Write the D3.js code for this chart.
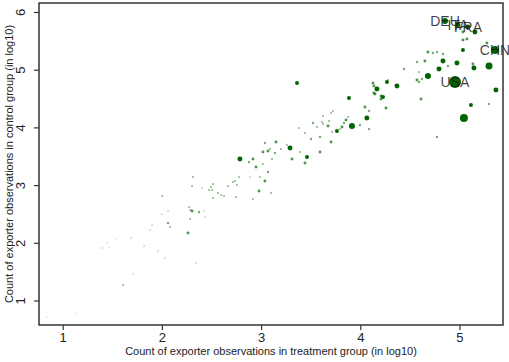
<!DOCTYPE html>
<html>
<head>
<meta charset="utf-8">
<script src="https://cdnjs.cloudflare.com/ajax/libs/d3/7.8.5/d3.min.js"></script>
<style>
  body { margin: 0; background: #fff; }
  svg { display: block; font-family: "Liberation Sans", Arial, sans-serif; }
</style>
</head>
<body>
<div id="chart"></div>
<script>
// log10 counts: treatment (x), control (y), and marker weight (w)
var treat = [4.854, 4.985, 5.086, 5.156, 5.035, 5.035, 5.075, 5.035, 5.277, 5.358,
  4.682, 4.733, 4.773, 4.834, 4.572, 4.652, 4.834, 4.975, 4.884, 5.136,
  5.146, 5.298, 4.441, 4.592, 4.794, 4.682, 4.572, 4.592, 4.622, 4.955,
  4.269, 4.279, 4.370, 4.209, 4.229, 5.368, 4.612, 4.259, 5.116, 5.298,
  5.045, 4.773, 3.362, 4.128, 4.138, 4.168, 4.138, 4.148, 4.209, 3.886,
  4.047, 4.088, 4.067, 3.876, 3.856, 3.836, 3.725, 3.705, 3.624, 3.614,
  3.624, 3.523, 3.685, 3.675, 3.564, 3.816, 3.795, 3.916, 3.997, 4.088,
  3.382, 3.765, 3.715, 3.442, 3.594, 3.503, 3.705, 3.594, 3.463, 3.443,
  3.039, 3.150, 3.019, 3.069, 3.090, 3.201, 3.140, 3.261, 3.292, 3.312,
  3.392, 3.110, 2.787, 2.878, 2.918, 2.949, 3.019, 3.069, 2.777, 2.888,
  2.989, 3.039, 2.716, 2.737, 2.515, 2.666, 2.757, 2.404, 2.495, 2.475,
  2.505, 2.566, 2.596, 2.626, 2.979, 3.100, 2.515, 2.747, 2.918, 2.314,
  2.304, 2.001, 2.275, 2.304, 2.285, 2.375, 2.426, 2.436, 2.062, 2.001,
  2.285, 2.062, 2.083, 1.901, 1.880, 2.264, 1.689, 1.820, 1.961, 2.031,
  2.344, 0.842, 1.144, 1.316, 1.396, 1.447, 1.467, 1.537, 1.608, 1.709];
var control = [5.844, 5.775, 5.740, 5.653, 5.653, 5.515, 5.532, 5.341, 5.463, 5.341,
  5.307, 5.289, 5.307, 5.272, 5.133, 5.150, 5.150, 5.116, 5.064, 5.099,
  5.029, 5.064, 5.012, 4.960, 5.012, 4.891, 4.822, 4.787, 4.839, 4.787,
  4.787, 4.822, 4.718, 4.544, 4.527, 4.648, 4.492, 4.336, 4.388, 4.406,
  4.163, 3.834, 4.769, 4.769, 4.718, 4.666, 4.596, 4.579, 4.492, 4.510,
  4.354, 4.284, 4.163, 4.180, 4.128, 4.076, 4.284, 4.250, 4.198, 4.094,
  4.059, 4.076, 4.111, 4.024, 4.007, 4.007, 3.972, 4.024, 4.042, 3.972,
  3.988, 3.938, 3.920, 3.903, 3.834, 3.799, 3.746, 3.574, 3.487, 3.383,
  3.730, 3.747, 3.574, 3.591, 3.626, 3.626, 3.556, 3.695, 3.643, 3.452,
  3.574, 3.452, 3.452, 3.400, 3.452, 3.314, 3.366, 3.227, 3.140, 3.140,
  3.140, 3.071, 3.054, 3.071, 3.019, 2.984, 3.002, 2.950, 2.967, 2.915,
  2.915, 2.863, 2.828, 2.811, 2.898, 2.862, 2.776, 2.794, 2.759, 3.140,
  2.984, 2.811, 2.620, 2.551, 2.568, 2.534, 2.551, 2.447, 2.551, 2.499,
  2.412, 2.343, 2.274, 2.309, 2.222, 2.170, 2.083, 1.945, 1.858, 1.737,
  1.650, 0.714, 0.783, 1.771, 1.910, 1.997, 1.927, 2.066, 1.269, 1.459];
var weight = [90, 62, 62, 62, 22, 22, 22, 40, 22, 160,
  22, 14, 14, 14, 14, 22, 62, 62, 14, 22,
  62, 122, 14, 10, 62, 90, 22, 14, 14, 360,
  40, 10, 62, 22, 40, 62, 22, 22, 40, 14,
  160, 14, 40, 22, 22, 62, 22, 22, 22, 40,
  22, 14, 62, 10, 22, 14, 10, 10, 10, 10,
  10, 14, 10, 22, 10, 22, 10, 90, 14, 14,
  10, 40, 10, 10, 14, 14, 22, 22, 40, 22,
  14, 22, 22, 22, 10, 10, 14, 10, 62, 22,
  10, 10, 62, 14, 22, 22, 10, 14, 10, 6,
  10, 22, 10, 10, 10, 10, 10, 6, 10, 10,
  10, 10, 10, 10, 22, 10, 10, 10, 10, 10,
  10, 10, 10, 22, 10, 14, 6, 6, 6, 6,
  10, 14, 10, 6, 6, 22, 6, 6, 6, 6,
  6, 3, 3, 3, 5, 5, 3, 3, 10, 5];

// labelled exporters: index into the arrays above
var labelNames = ["DEU", "ITA", "FRA", "CHN", "USA"];
var labelIndex = [0, 1, 2, 9, 29];

var xTicks = [1, 2, 3, 4, 5];
var yTicks = [1, 2, 3, 4, 5, 6];

var width = 509, height = 362;
var margin = { top: 3, right: 6, bottom: 37, left: 39 };

var data = treat.map(function (t, i) { return { x: t, y: control[i], w: weight[i] }; });

var x = d3.scaleLinear().domain([0.761, 5.439]).range([margin.left, width - margin.right]);
var y = d3.scaleLinear().domain([0.575, 6.156]).range([height - margin.bottom, margin.top]);
var r = d3.scaleSqrt().domain([0, 360]).range([0, 6]);
var op = d3.scaleLinear().domain([3, 40]).range([0.35, 1]).clamp(true);

var svg = d3.select("#chart").append("svg")
  .attr("width", width)
  .attr("height", height);

// points
svg.append("g")
  .selectAll("circle")
  .data(data)
  .enter().append("circle")
  .attr("cx", function (d) { return x(d.x); })
  .attr("cy", function (d) { return y(d.y); })
  .attr("r", function (d) { return r(d.w); })
  .style("fill", "#006400")
  .style("fill-opacity", function (d) { return op(d.w); });

// country labels
svg.append("g")
  .selectAll("text")
  .data(labelIndex)
  .enter().append("text")
  .attr("x", function (i) { return x(data[i].x); })
  .attr("y", function (i) { return y(data[i].y); })
  .attr("dy", "0.35em")
  .attr("text-anchor", "middle")
  .style("font-size", "14px")
  .style("fill", "#1a1a1a")
  .style("fill-opacity", 0.85)
  .text(function (i, k) { return labelNames[k]; });

// x axis
var gx = svg.append("g")
  .attr("transform", "translate(0," + (height - margin.bottom) + ")")
  .call(d3.axisBottom(x).tickValues(xTicks).tickSize(5).tickPadding(3).tickFormat(d3.format("d")));
gx.select(".domain").remove();
gx.selectAll("line").attr("stroke", "#333").attr("stroke-width", 1.2);
gx.selectAll("text").style("font-size", "13px").style("fill", "#222");

// y axis, labels rotated
var gy = svg.append("g")
  .attr("transform", "translate(" + margin.left + ",0)")
  .call(d3.axisLeft(y).tickValues(yTicks).tickSize(5).tickFormat(d3.format("d")));
gy.select(".domain").remove();
gy.selectAll("line").attr("stroke", "#333").attr("stroke-width", 1.2);
gy.selectAll("text")
  .attr("transform", "rotate(-90)")
  .attr("x", 0)
  .attr("y", -14)
  .attr("dy", 0)
  .attr("text-anchor", "middle")
  .style("font-size", "13px")
  .style("fill", "#222");

// frame
svg.append("rect")
  .attr("x", margin.left)
  .attr("y", margin.top)
  .attr("width", width - margin.left - margin.right)
  .attr("height", height - margin.top - margin.bottom)
  .style("fill", "none")
  .style("stroke", "#333")
  .style("stroke-width", 1.5);

// axis titles
svg.append("text")
  .attr("x", (margin.left + width - margin.right) / 2)
  .attr("y", 355)
  .attr("text-anchor", "middle")
  .style("font-size", "11px")
  .style("fill", "#222")
  .text("Count of exporter observations in treatment group (in log10)");

svg.append("text")
  .attr("transform", "translate(13," + ((margin.top + height - margin.bottom) / 2) + ") rotate(-90)")
  .attr("text-anchor", "middle")
  .style("font-size", "11px")
  .style("fill", "#222")
  .text("Count of exporter observations in control group (in log10)");
</script>
</body>
</html>
